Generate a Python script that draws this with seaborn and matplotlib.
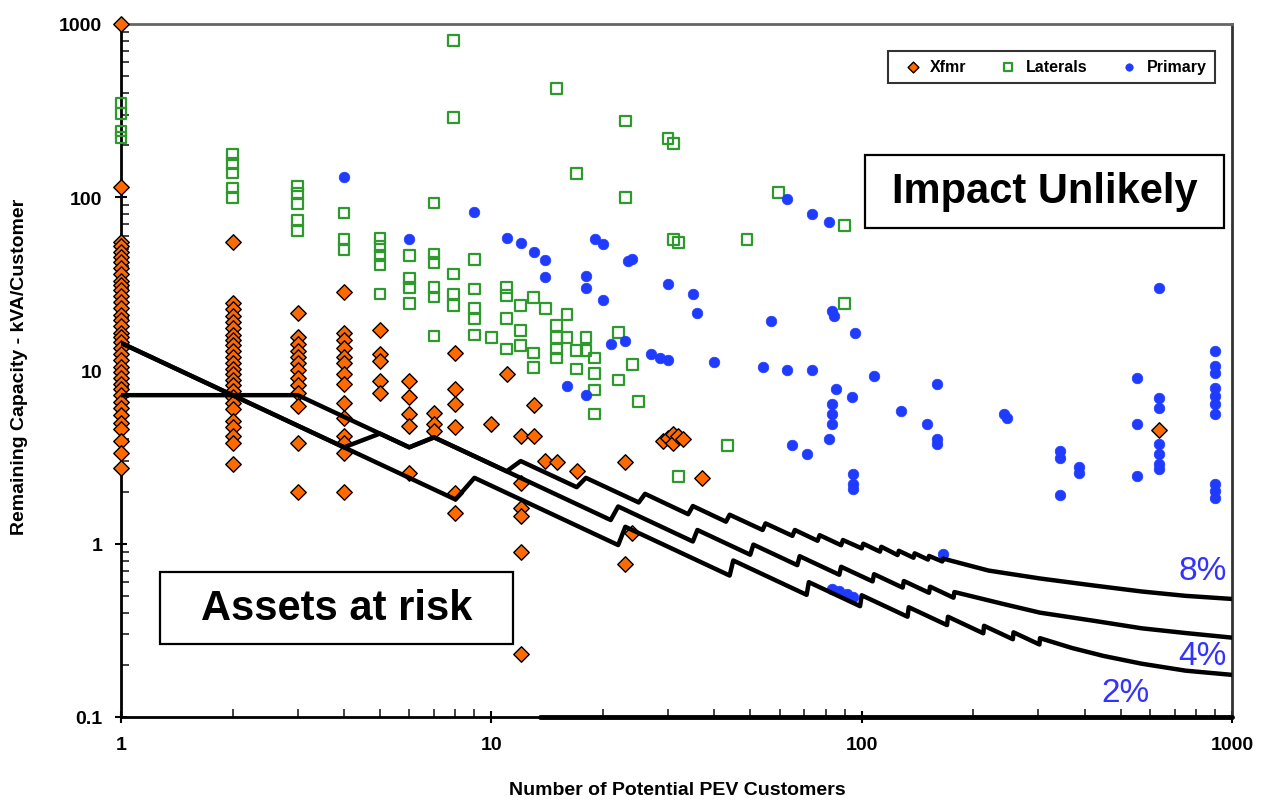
import matplotlib
matplotlib.use("Agg")
import matplotlib.pyplot as plt
from matplotlib.patches import Rectangle
from matplotlib.ticker import FuncFormatter, LogLocator, NullFormatter
import seaborn as sns
import pandas as pd

# ---------------- data ----------------
# Xfmr: customers count and the remaining capacity values observed at that count
xfmr_n = [1, 2, 3, 4, 5, 6, 7, 8, 10, 11, 12, 13, 14, 15, 17, 23, 24, 29, 30, 31, 32, 33, 37, 634]
xfmr_vals = [
    [1000, 115, 55, 52, 48, 45, 42, 39, 36, 33, 31, 29, 27, 25, 23, 21, 19.5, 18, 16.5,
     15.5, 14.5, 13.5, 12.5, 11.5, 10.5, 9.8, 9.0, 8.4, 7.8, 7.2, 6.6, 6.1, 5.5, 5.0,
     4.6, 3.9, 3.35, 2.75],
    [55, 24.5, 22.5, 20.5, 19, 17.5, 16, 15, 14, 13, 12, 11, 10.2, 9.5, 8.8, 8.2, 7.6,
     7.0, 6.5, 6.0, 5.1, 4.7, 4.2, 3.8, 2.9],
    [21.5, 15.5, 14.2, 13, 12, 11, 10, 9, 8.2, 7.4, 6.2, 3.8, 2.0],
    [28.5, 16.5, 15, 13.5, 12, 11, 9.6, 8.4, 6.5, 5.3, 4.2, 3.8, 3.35, 2.0],
    [17.2, 12.5, 11.4, 8.7, 7.4],
    [8.7, 7.0, 5.6, 4.8, 2.57],
    [5.7, 4.9, 4.5],
    [12.6, 7.8, 6.4, 4.7, 1.97, 1.5],
    [4.9],
    [9.6],
    [4.2, 2.25, 1.6, 1.45, 0.89, 0.23],
    [6.3, 4.2],
    [3.0],
    [2.95],
    [2.64],
    [2.97, 0.76],
    [1.16],
    [3.9],
    [4.1],
    [4.3, 3.8],
    [4.2],
    [4.0],
    [2.4],
    [4.55],
]

laterals_x = [1, 1, 1, 1,
              2, 2, 2, 2, 2,
              3, 3, 3, 3, 3,
              4, 4, 4,
              5, 5, 5, 5, 5,
              6, 6, 6, 6,
              7, 7, 7, 7, 7, 7,
              7.9, 7.9, 7.9, 7.9, 7.9,
              9, 9, 9, 9, 9,
              10,
              11, 11, 11, 11,
              12, 12, 12,
              13, 13, 13,
              14,
              15, 15, 15, 15, 15,
              16, 16,
              17, 17, 17,
              18, 18,
              19, 19, 19, 19,
              22, 22, 23, 23, 24, 25,
              30, 31, 31, 32, 32, 43.5,
              49, 59.5, 90, 90]
laterals_y = [350, 303, 241, 220,
              176, 157, 138, 113, 100,
              116, 105, 92, 73, 64,
              81, 57, 50,
              58, 52, 46, 41, 27.6,
              46, 34, 30, 24.3,
              92.5, 47, 42, 30, 26.5, 15.8,
              800, 287, 36, 27.6, 23.7,
              43.6, 29.5, 22.7, 19.9, 16,
              15.5,
              30, 27, 20, 13.3,
              23.7, 17, 13.9,
              26.4, 12.6, 10.4,
              22.7,
              424, 18.1, 15.5, 13.3, 11.8,
              21, 15.5,
              137, 13, 10.2,
              15.5, 13,
              11.8, 9.6, 7.7, 5.6,
              16.5, 8.8, 275, 100, 10.8, 6.6,
              218, 204, 57, 55, 2.44, 3.7,
              57, 106, 68.5, 24.3]

primary_x = [4, 6, 9, 11, 12, 13, 14, 14,
             18, 18, 19, 20, 20, 23.4, 24,
             30, 35, 36,
             21, 23, 27, 28.5, 30, 40, 54, 63, 73.5,
             16, 18,
             57, 63, 73.5, 81.5,
             83, 84, 96, 108, 85.5, 83, 83, 83, 81.5, 94,
             128, 150, 160, 160, 160,
             65, 71, 95, 95, 95,
             242, 247, 344, 344, 344, 386, 386,
             553, 553, 553,
             634, 634, 634, 634, 634, 634, 634,
             900, 900, 900, 900, 900, 900, 900, 900, 900, 900,
             166, 83, 87, 91, 95]
primary_y = [130, 57, 82.5, 58, 54.5, 48.5, 43.6, 34.7,
             35, 30, 57, 54, 25.5, 43, 44,
             31.6, 27.6, 21.5,
             14.3, 14.8, 12.5, 11.8, 11.5, 11.2, 10.4, 10, 10,
             8.1, 7.2,
             19.4, 97, 79.5, 71.5,
             22, 20.5, 16.5, 9.3, 7.8, 6.4, 5.6, 4.9, 4.0, 7.0,
             5.85, 4.9, 8.4, 4.0, 3.77,
             3.7, 3.3, 2.53, 2.22, 2.08,
             5.6, 5.35, 3.45, 3.14, 1.92, 2.78, 2.57,
             9.1, 4.9, 2.47,
             30, 6.9, 6.1, 3.77, 3.3, 2.9, 2.7,
             13, 10.6, 9.7, 7.95, 7.15, 6.4, 5.6, 2.22, 2.02, 1.84,
             0.87, 0.55, 0.53, 0.51, 0.49]

# threshold curves (vertices)
line8_x = [1, 3, 6, 7, 11, 12, 17, 18, 25, 26, 34, 35, 43, 44, 54, 55, 65, 66, 76, 77,
           88, 89, 100, 101, 112, 113, 125, 126, 138, 139, 151, 152, 165, 166,
           220, 303, 420, 570, 750, 1000]
line8_y = [7.2, 7.2, 3.6, 4.11, 2.62, 3.0, 2.12, 2.4, 1.73, 1.94, 1.48, 1.65, 1.34, 1.47,
           1.2, 1.31, 1.11, 1.2, 1.04, 1.12, 0.98, 1.05, 0.94, 1.0, 0.9, 0.96, 0.86, 0.91,
           0.83, 0.88, 0.81, 0.85, 0.79, 0.82,
           0.70, 0.63, 0.575, 0.53, 0.50, 0.48]

line4_x = [1, 4, 5, 6, 7, 21, 22, 35, 36, 50, 51, 67, 68, 87, 88, 107, 108, 129, 130,
           152, 153, 177, 178, 240, 303, 420, 570, 750, 1000]
line4_y = [14.4, 3.6, 4.32, 3.6, 4.11, 1.37, 1.64, 1.03, 1.2, 0.864, 0.988, 0.752, 0.847,
           0.662, 0.736, 0.606, 0.667, 0.558, 0.609, 0.521, 0.565, 0.488, 0.526,
           0.45, 0.40, 0.36, 0.325, 0.305, 0.287]

line2_x = [1, 8, 9, 22, 23, 44, 45, 71, 72, 99, 100, 133, 134, 170, 171, 213, 214,
           256, 257, 302, 303, 370, 450, 570, 750, 1000]
line2_y = [14.4, 1.8, 2.4, 0.982, 1.252, 0.655, 0.8, 0.507, 0.6, 0.436, 0.504, 0.379,
           0.43, 0.339, 0.379, 0.304, 0.336, 0.281, 0.308, 0.262, 0.285,
           0.25, 0.225, 0.203, 0.185, 0.175]

floor_x = [13.5, 1000]
floor_y = [0.1, 0.1]

x_ticks = [1, 10, 100, 1000]
y_ticks = [0.1, 1, 10, 100, 1000]

# ---------------- style ----------------
sns.set_style("ticks")
plt.rcParams["font.family"] = ["Liberation Sans", "DejaVu Sans"]
plt.rcParams["text.color"] = "black"
plt.rcParams["axes.labelcolor"] = "black"
plt.rcParams["xtick.color"] = "black"
plt.rcParams["ytick.color"] = "black"

xfmr_df = pd.DataFrame({
    "n": [n for n, vals in zip(xfmr_n, xfmr_vals) for _ in vals],
    "cap": [v for vals in xfmr_vals for v in vals],
})
lat_df = pd.DataFrame({"n": laterals_x, "cap": laterals_y})
pri_df = pd.DataFrame({"n": primary_x, "cap": primary_y})

fig = plt.figure(figsize=(12.61, 8.04), dpi=100)
ax = fig.add_axes([0.096, 0.107, 0.881, 0.862])
ax.set_xscale("log")
ax.set_yscale("log")

orange = "#FF6A00"
green = "#2E9A2E"
blue = "#1F3BFF"

sns.scatterplot(data=xfmr_df, x="n", y="cap", ax=ax, marker="D", s=62,
                color=orange, edgecolor="black", linewidth=1.0, label="Xfmr", zorder=3)
sns.scatterplot(data=lat_df, x="n", y="cap", ax=ax, marker="s", s=60,
                facecolor="none", edgecolor=green, linewidth=1.6, label="Laterals", zorder=3)
sns.scatterplot(data=pri_df, x="n", y="cap", ax=ax, marker="o", s=58,
                color=blue, edgecolor=blue, linewidth=0.5, label="Primary", zorder=3)
for coll in ax.collections:
    coll.set_clip_on(False)

for lx, ly in [(line8_x, line8_y), (line4_x, line4_y), (line2_x, line2_y)]:
    sns.lineplot(x=lx, y=ly, ax=ax, sort=False, estimator=None, color="black",
                 linewidth=3.2, zorder=4, legend=False)
ax.plot(floor_x, floor_y, color="black", linewidth=3.5, clip_on=False, zorder=5)

ax.set_xlim(1, 1000)
ax.set_ylim(0.1, 1000)
ax.set_xticks(x_ticks)
ax.set_yticks(y_ticks)
fmt = FuncFormatter(lambda v, p: f"{v:g}")
ax.xaxis.set_major_formatter(fmt)
ax.yaxis.set_major_formatter(fmt)
ax.xaxis.set_minor_locator(LogLocator(base=10, subs=range(2, 10)))
ax.yaxis.set_minor_locator(LogLocator(base=10, subs=range(2, 10)))
ax.xaxis.set_minor_formatter(NullFormatter())
ax.yaxis.set_minor_formatter(NullFormatter())
ax.tick_params(which="major", direction="inout", length=9, width=1.5, color="black",
               labelcolor="black", labelsize=14, pad=9)
ax.tick_params(which="minor", direction="in", length=6, width=1.2, color="#222222")
for lab in ax.get_xticklabels() + ax.get_yticklabels():
    lab.set_fontweight("bold")

for side in ["left", "bottom"]:
    ax.spines[side].set_linewidth(2.0)
    ax.spines[side].set_color("black")
ax.spines["top"].set_linewidth(2.0)
ax.spines["top"].set_color("#666666")
ax.spines["right"].set_linewidth(2.0)
ax.spines["right"].set_color("#333333")

ax.set_xlabel("Number of Potential PEV Customers", fontsize=14, fontweight="bold",
              color="black")
ax.set_ylabel("Remaining Capacity - kVA/Customer", fontsize=14, fontweight="bold",
              color="black")
ax.xaxis.set_label_coords(0.501, -0.092)
ax.yaxis.set_label_coords(-0.084, 0.506)

leg = ax.legend(loc="upper right", bbox_to_anchor=(0.992, 0.973), ncol=3,
                frameon=True, fancybox=False, edgecolor="black",
                handletextpad=0.1, columnspacing=1.6, borderpad=0.55,
                markerscale=0.7, prop={"weight": "bold", "size": 11.5})
leg.get_frame().set_linewidth(1.5)
for t in leg.get_texts():
    t.set_color("black")

# annotation boxes
for (x0, y0, x1, y1, txt) in [(0.670, 0.706, 0.993, 0.811, "Impact Unlikely"),
                              (0.035, 0.105, 0.353, 0.209, "Assets at risk")]:
    ax.add_patch(Rectangle((x0, y0), x1 - x0, y1 - y0, transform=ax.transAxes,
                           facecolor="white", edgecolor="black", linewidth=1.6, zorder=6))
    ax.text((x0 + x1) / 2, (y0 + y1) / 2, txt, transform=ax.transAxes, ha="center",
            va="center", fontsize=30, fontweight="bold", color="black", zorder=7)

pct_color = "#3333FF"
ax.text(0.974, 0.211, "8%", transform=ax.transAxes, ha="center", va="center",
        fontsize=24, color=pct_color, zorder=7)
ax.text(0.973, 0.088, "4%", transform=ax.transAxes, ha="center", va="center",
        fontsize=24, color=pct_color, zorder=7)
ax.text(0.904, 0.035, "2%", transform=ax.transAxes, ha="center", va="center",
        fontsize=24, color=pct_color, zorder=7)

fig.savefig("out.png", dpi=100, facecolor="white")
